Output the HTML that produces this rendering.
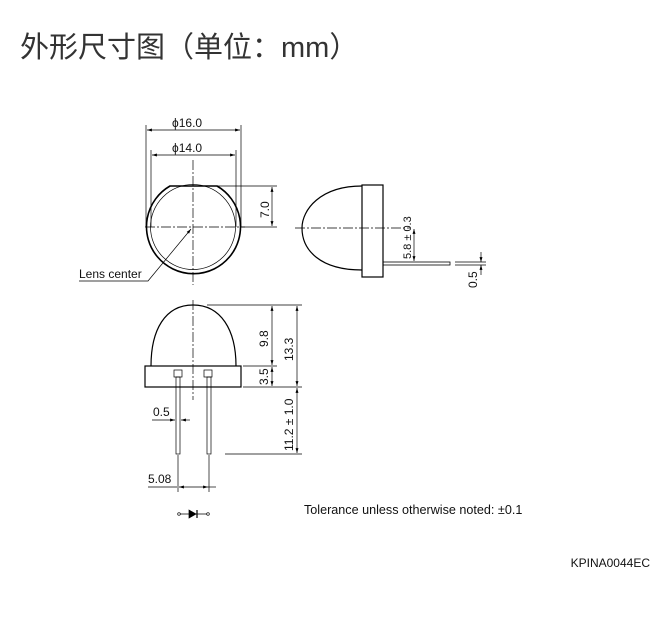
<!DOCTYPE html>
<html><head><meta charset="utf-8"><style>
body{margin:0;background:#fff;width:664px;height:629px;overflow:hidden;}
.t{position:absolute;left:20px;top:24px;font:29px "Liberation Sans","Noto Sans CJK SC",sans-serif;color:#333;white-space:nowrap;}
svg{position:absolute;left:0;top:0;}
text{font-family:"Liberation Sans",sans-serif;fill:#111;}
</style></head><body>
<div class="t">外形尺寸图（单位：mm）</div>
<svg width="664" height="629" viewBox="0 0 664 629">
<defs><marker id="a" viewBox="0 0 10 10" refX="10" refY="5" markerWidth="7" markerHeight="7" orient="auto-start-reverse"><path d="M0,2 L10,5 L0,8z" fill="#000"/></marker></defs>
<g stroke="#000" fill="none" stroke-width="0.7">
<path d="M170,186 L217,186 A47,47 0 1 1 170,186Z" stroke-width="1.6"/>
<circle cx="193" cy="227" r="42.5"/>
<line x1="193" y1="160" x2="193" y2="285" stroke-dasharray="10,2,2,2"/>
<line x1="145" y1="227" x2="245" y2="227" stroke-dasharray="10,2,2,2"/>
<line x1="146" y1="125" x2="146" y2="227"/><line x1="241" y1="125" x2="241" y2="227"/>
<line x1="151" y1="150" x2="151" y2="227"/><line x1="236" y1="150" x2="236" y2="227"/>
<line x1="147" y1="130" x2="240" y2="130" marker-start="url(#a)" marker-end="url(#a)"/>
<line x1="152" y1="155" x2="235" y2="155" marker-start="url(#a)" marker-end="url(#a)"/>
<line x1="217" y1="186" x2="277" y2="186"/><line x1="241" y1="227" x2="277" y2="227"/>
<line x1="272" y1="187" x2="272" y2="226" marker-start="url(#a)" marker-end="url(#a)"/>
<polyline points="79,281 148,281 191,229" marker-end="url(#a)"/>
<rect x="362" y="185" width="21" height="92" stroke-width="1.2"/>
<path d="M362,186 C320,186 302,210 302,228 C302,250 320,270 362,270" stroke-width="1.2"/>
<rect x="383" y="262" width="67" height="3" stroke-width="0.8"/>
<line x1="295" y1="228" x2="410" y2="228" stroke-dasharray="10,2,2,2"/>
<line x1="414" y1="229" x2="414" y2="261" marker-start="url(#a)" marker-end="url(#a)"/>
<line x1="455" y1="262" x2="486" y2="262"/><line x1="455" y1="265" x2="486" y2="265"/>
<line x1="481" y1="252" x2="481" y2="262" marker-end="url(#a)"/><line x1="481" y1="275" x2="481" y2="265" marker-end="url(#a)"/>
<rect x="145" y="366" width="96" height="21" stroke-width="1.2"/>
<path d="M151,366 C151,330 165,305 193,305 C221,305 236,330 236,366" stroke-width="1.2"/>
<line x1="193" y1="300" x2="193" y2="400" stroke-dasharray="10,2,2,2"/>
<rect x="174" y="370" width="8" height="7"/><rect x="204" y="370" width="8" height="7"/>
<rect x="176" y="377" width="4" height="77"/><rect x="207" y="377" width="4" height="77"/>
<line x1="207" y1="305" x2="302" y2="305"/><line x1="243" y1="366" x2="277" y2="366"/>
<line x1="243" y1="387" x2="302" y2="387"/><line x1="225" y1="454" x2="302" y2="454"/>
<line x1="272" y1="306" x2="272" y2="365" marker-start="url(#a)" marker-end="url(#a)"/>
<line x1="272" y1="367" x2="272" y2="386" marker-start="url(#a)" marker-end="url(#a)"/>
<line x1="297" y1="306" x2="297" y2="386" marker-start="url(#a)" marker-end="url(#a)"/>
<line x1="297" y1="388" x2="297" y2="453" marker-start="url(#a)" marker-end="url(#a)"/>
<line x1="152" y1="420" x2="175" y2="420" marker-end="url(#a)"/><line x1="190" y1="420" x2="181" y2="420" marker-end="url(#a)"/>
<line x1="178" y1="455" x2="178" y2="492"/><line x1="209" y1="455" x2="209" y2="492"/>
<line x1="148" y1="487" x2="177" y2="487"/><line x1="179" y1="487" x2="208" y2="487" marker-start="url(#a)" marker-end="url(#a)"/>
<line x1="208" y1="487" x2="216" y2="487"/>
<circle cx="179" cy="514" r="1.3"/><circle cx="208" cy="514" r="1.3"/>
<line x1="180" y1="514" x2="207" y2="514"/>
<path d="M189,510 L196,514 L189,518Z" fill="#000"/><line x1="197" y1="510" x2="197" y2="518" stroke-width="1.2"/>
</g>
<g font-size="12">
<text x="172" y="127">ϕ16.0</text>
<text x="172" y="152">ϕ14.0</text>
<text x="79" y="278">Lens center</text>
<text transform="translate(269,218) rotate(-90)">7.0</text>
<text transform="translate(411,259) rotate(-90)" font-size="11">5.8 ± 0.3</text>
<text transform="translate(477,288) rotate(-90)">0.5</text>
<text transform="translate(268,347) rotate(-90)">9.8</text>
<text transform="translate(293,361) rotate(-90)">13.3</text>
<text transform="translate(268,385) rotate(-90)">3.5</text>
<text transform="translate(293,451) rotate(-90)">11.2 ± 1.0</text>
<text x="153" y="416">0.5</text>
<text x="148" y="483">5.08</text>
<text x="304" y="514" font-size="12.6">Tolerance unless otherwise noted: ±0.1</text>
<text x="650" y="567" text-anchor="end" font-size="12">KPINA0044EC</text>
</g>
</svg>
</body></html>
